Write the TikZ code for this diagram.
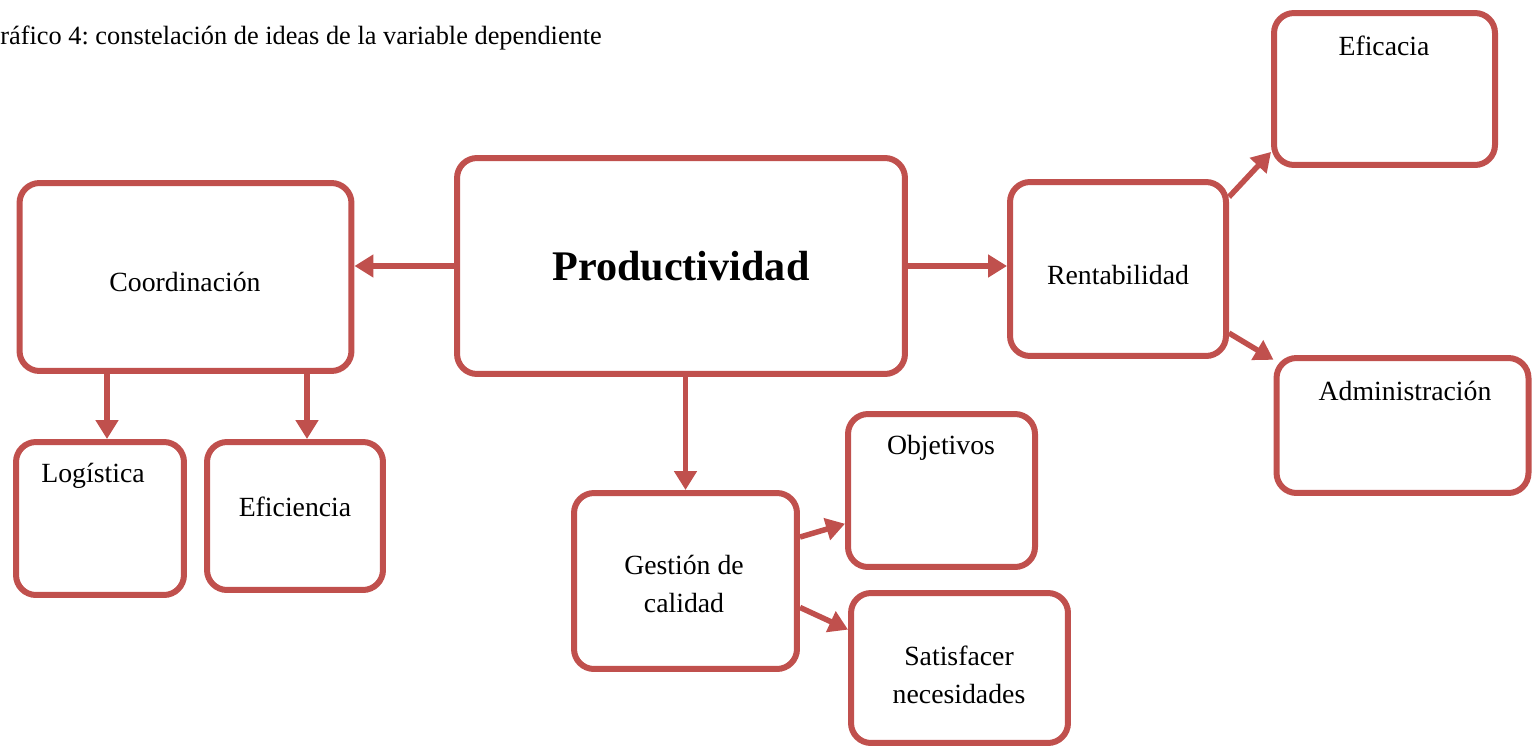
\documentclass[tikz,border=0pt]{standalone}
\usepackage{fontspec}
\setmainfont{Liberation Serif}
\usetikzlibrary{arrows.meta}
\definecolor{boxred}{HTML}{C0504D}
\tikzset{
  box/.style={draw=boxred, line width=0.12cm, rounded corners=0.4cm, inner sep=0pt},
  link/.style={draw=boxred, line width=0.11cm, -{Triangle[length=0.38cm,width=0.44cm]}},
  word/.style={font=\fontsize{15.8}{22}\selectfont, align=center, inner sep=0pt}
}
\frenchspacing

\begin{document}
\begin{tikzpicture}[x=0.02cm,y=-0.02cm]
                \useasboundingbox (0,0) rectangle (1533,747);

                \node[word, anchor=west, font=\fontsize{15}{18}\selectfont] (caption) at (0,38) {ráfico 4: constelación de ideas de la variable dependiente};

                % draw the boxes: name/x/y/width/height
                \foreach \n/\x/\y/\w/\h in {prod/681/266/8.96/4.32, coord/185.5/277/6.64/3.76,
                        logi/100/518.5/3.36/3.06, efic/295/516/3.52/2.96, gest/685.5/581/4.46/3.52,
                        obj/941.5/490.5/3.74/3.06, satis/959.5/668/4.34/3.0, rent/1118/269/4.32/3.48,
                        efcc/1384.5/89/4.42/3.04, admin/1402.5/425.5/5.04/2.7} {
                    \node[box, minimum width=\w cm, minimum height=\h cm] (\n) at (\x,\y) {};
                }

                \node[word, font=\fontsize{24}{28}\selectfont\bfseries] (prodtext) at (681,266) {Productividad};
                \node[word] (coordtext) at (185,282) {Coordinación};
                \node[word] (logitext) at (93,476) {Logística};
                \node[word] (efictext) at (295,507) {Eficiencia};
                \node[word] (gesttext) at (684,584) {Gestión de\\calidad};
                \node[word] (objtext) at (941,448) {Objetivos};
                \node[word] (satistext) at (959,675) {Satisfacer\\necesidades};
                \node[word] (renttext) at (1118,275) {Rentabilidad};
                \node[word] (efcctext) at (1384,46) {Eficacia};
                \node[word] (admintext) at (1405,391) {Administración};

                % draw the links
                \draw[link] (prod.west) -- (prod.west -| coord.east);
                \draw[link] (prod.east) -- (prod.east -| rent.west);
                \draw[link] (gest.north |- prod.south) -- (gest.north);
                \draw[link] ([xshift=0.14cm]logi.north |- coord.south) -- ([xshift=0.14cm]logi.north);
                \draw[link] ([xshift=0.24cm]efic.north |- coord.south) -- ([xshift=0.24cm]efic.north);
                \draw[link] (gest.21) -- (obj.199);
                \draw[link] (gest.-13) -- (satis.161);
                \draw[link] (rent.33) -- (efcc.209);
                \draw[link] (rent.-30) -- (admin.153);
            \end{tikzpicture}
\end{document}
